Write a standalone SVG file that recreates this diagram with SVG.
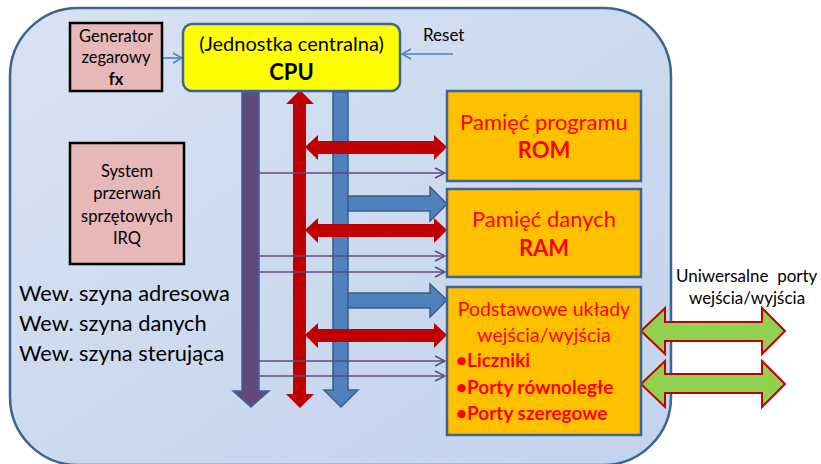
<svg xmlns="http://www.w3.org/2000/svg" width="821" height="464" viewBox="0 0 821 464">
  <defs>
    <linearGradient id="bg" x1="0" y1="0" x2="1" y2="1">
      <stop offset="0" stop-color="#d8e2f2"/>
      <stop offset="1" stop-color="#c2d3ec"/>
    </linearGradient>
    <marker id="openBlue" viewBox="0 0 12 12" refX="11" refY="6" markerWidth="12" markerHeight="12" markerUnits="userSpaceOnUse" orient="auto">
      <path d="M2,1 L11,6 L2,11" fill="none" stroke="#4f81bd" stroke-width="1.6"/>
    </marker>
    <marker id="openPurple" viewBox="0 0 12 12" refX="11" refY="6" markerWidth="12" markerHeight="12" markerUnits="userSpaceOnUse" orient="auto">
      <path d="M1,1 L11,6 L1,11" fill="none" stroke="#604a7b" stroke-width="1.4"/>
    </marker>
  </defs>
  <style>
    text { font-family: Lato, "Liberation Sans", sans-serif; }
    .red { fill: #ff0000; }
    .pink { fill: #e6b9b8; stroke: #000; stroke-width: 2.5; }
    .mem { fill: #ffc000; stroke: #3c6494; stroke-width: 2.5; }
    .redArrow { fill: #c00000; stroke: none; }
    .blueArrow { fill: #4f81bd; stroke: #385d8a; stroke-width: 1.5; }
    .greenArrow { fill: #92d050; stroke: #c00000; stroke-width: 2; }
    .thin { stroke: #604a7b; stroke-width: 1.4; fill: none; marker-end: url(#openPurple); }
  </style>

  <!-- board outline -->
  <rect x="10" y="8" width="661" height="457" rx="68" ry="68" fill="url(#bg)" stroke="#3c6494" stroke-width="2.5"/>

  <!-- buses and links -->
  <g id="connectors">
    <!-- clock and reset inputs -->
    <line x1="163" y1="58" x2="182" y2="58" stroke="#4f81bd" stroke-width="1.6" marker-end="url(#openBlue)"/>
    <line x1="453" y1="54" x2="402" y2="54" stroke="#4f81bd" stroke-width="1.6" marker-end="url(#openBlue)"/>

    <!-- control bus (purple) -->
    <path d="M242,92 L259,92 L259,391 L269,391 L251,407 L233,391 L242,391 Z" fill="#604a7b" stroke="#3c6494" stroke-width="1.5"/>
    <!-- data bus (red, bidirectional) -->
    <path class="redArrow" d="M300,90 L314,104 L306,104 L306,394 L314,394 L300,408 L286,394 L293,394 L293,104 L286,104 Z"/>
    <!-- address bus (blue) -->
    <path class="blueArrow" d="M333,92 L348,92 L348,390 L358,390 L341,407 L324,390 L333,390 Z"/>

    <!-- data links to memories / IO -->
    <path class="redArrow" d="M305,147 L318,135 L318,141 L434,141 L434,135 L447,147 L434,160 L434,154 L318,154 L318,160 Z"/>
    <path class="redArrow" d="M305,230 L318,218 L318,224 L434,224 L434,218 L447,230 L434,243 L434,237 L318,237 L318,243 Z"/>
    <path class="redArrow" d="M305,335 L318,323 L318,329 L434,329 L434,323 L447,335 L434,348 L434,342 L318,342 L318,348 Z"/>

    <!-- address links -->
    <path class="blueArrow" d="M348,196 L430,196 L430,187 L447,204 L430,221 L430,211 L348,211 Z"/>
    <path class="blueArrow" d="M348,293 L430,293 L430,284 L447,300 L430,317 L430,308 L348,308 Z"/>

    <!-- control lines -->
    <line class="thin" x1="259" y1="173" x2="445" y2="173"/>
    <line class="thin" x1="259" y1="256" x2="445" y2="256"/>
    <line class="thin" x1="259" y1="272" x2="445" y2="272"/>
    <line class="thin" x1="259" y1="361" x2="445" y2="361"/>
    <line class="thin" x1="259" y1="376" x2="445" y2="376"/>

    <!-- external I/O ports -->
    <path class="greenArrow" d="M641,331 L665,308 L665,322 L762,322 L762,308 L785,331 L762,354 L762,341 L665,341 L665,354 Z"/>
    <path class="greenArrow" d="M641,384 L665,361 L665,374 L762,374 L762,361 L785,384 L762,407 L762,393 L665,393 L665,407 Z"/>
  </g>

  <g id="clock">
    <rect class="pink" x="70" y="23" width="92" height="68"/>
    <text x="116" y="42" font-size="16.5" text-anchor="middle">Generator</text>
    <text x="116" y="63" font-size="16.5" text-anchor="middle">zegarowy</text>
    <text x="116" y="85" font-size="16.5" font-weight="bold" text-anchor="middle">fx</text>
  </g>

  <g id="cpu">
    <rect x="183" y="24" width="217" height="67" rx="9" ry="9" fill="#ffff00" stroke="#3c6494" stroke-width="2.5"/>
    <text x="291.5" y="51" font-size="20" text-anchor="middle">(Jednostka centralna)</text>
    <text x="291.5" y="80" font-size="22" font-weight="bold" text-anchor="middle">CPU</text>
  </g>

  <g id="reset">
    <text x="423" y="41" font-size="17">Reset</text>
  </g>

  <g id="irq">
    <rect class="pink" x="70" y="143" width="114" height="121"/>
    <text x="127" y="177" font-size="16.5" text-anchor="middle">System</text>
    <text x="127" y="199" font-size="16.5" text-anchor="middle">przerwań</text>
    <text x="127" y="222" font-size="16.5" text-anchor="middle">sprzętowych</text>
    <text x="127" y="244" font-size="16.5" text-anchor="middle">IRQ</text>
  </g>

  <g id="bus-legend">
    <text x="19" y="301" font-size="21.8">Wew. szyna adresowa</text>
    <text x="19" y="331" font-size="21.8">Wew. szyna danych</text>
    <text x="19" y="361" font-size="21.8">Wew. szyna sterująca</text>
  </g>

  <g id="rom">
    <rect class="mem" x="447" y="91" width="194" height="90"/>
    <text class="red" x="544" y="130" font-size="22" text-anchor="middle">Pamięć programu</text>
    <text class="red" x="544" y="158" font-size="22" font-weight="bold" text-anchor="middle">ROM</text>
  </g>

  <g id="ram">
    <rect class="mem" x="447" y="189" width="194" height="88"/>
    <text class="red" x="544" y="227" font-size="22" text-anchor="middle">Pamięć danych</text>
    <text class="red" x="544" y="256" font-size="22" font-weight="bold" text-anchor="middle">RAM</text>
  </g>

  <g id="io">
    <rect class="mem" x="447" y="287" width="194" height="148"/>
    <text class="red" x="544" y="316" font-size="19.5" text-anchor="middle">Podstawowe układy</text>
    <text class="red" x="544" y="342" font-size="19.5" text-anchor="middle">wejścia/wyjścia</text>
    <text class="red" x="456" y="367" font-size="19" font-weight="bold">•Liczniki</text>
    <text class="red" x="456" y="394" font-size="19" font-weight="bold">•Porty równoległe</text>
    <text class="red" x="456" y="420" font-size="19" font-weight="bold">•Porty szeregowe</text>
  </g>

  <g id="ports-label">
    <text x="676" y="282" font-size="17" xml:space="preserve">Uniwersalne  porty</text>
    <text x="747" y="304" font-size="17" text-anchor="middle">wejścia/wyjścia</text>
  </g>
</svg>
